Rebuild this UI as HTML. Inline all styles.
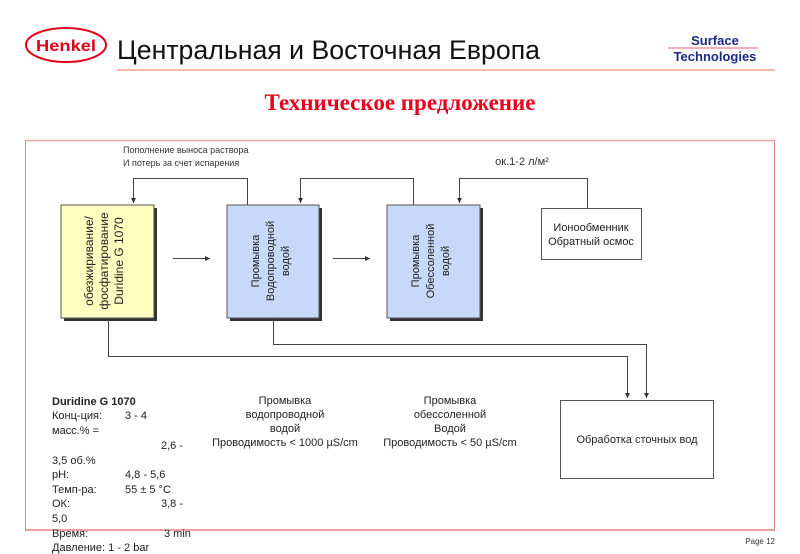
<!DOCTYPE html>
<html><head><meta charset="utf-8"><style>
body{margin:0;width:800px;height:554px;overflow:hidden;background:#fff;position:relative;font-family:"Liberation Sans",sans-serif}
.a{position:absolute}
</style></head><body>
<svg class="a" style="left:0;top:0" width="800" height="554" font-family="Liberation Sans, sans-serif">
<defs><marker id="ar" markerWidth="6" markerHeight="6" refX="5" refY="3" orient="auto"><path d="M0,0.5 L5,3 L0,5.5z" fill="#333"/></marker></defs>
<ellipse cx="66" cy="45" rx="40" ry="17" fill="#fff" stroke="#e2001a" stroke-width="2"/>
<text x="36" y="51" font-size="16" font-weight="bold" fill="#e2001a" textLength="60" lengthAdjust="spacingAndGlyphs">Henkel</text>
<text x="117" y="59" font-size="27" fill="#111" textLength="423" lengthAdjust="spacingAndGlyphs">Центральная и Восточная Европа</text>
<line x1="117" y1="70" x2="775" y2="70" stroke="#f0a090" stroke-width="1.5"/>
<text x="715" y="45" font-size="13" font-weight="bold" fill="#1a2a80" text-anchor="middle">Surface</text>
<line x1="668" y1="48" x2="758" y2="48" stroke="#e06080" stroke-width="1"/>
<text x="715" y="61" font-size="13" font-weight="bold" fill="#1a2a80" text-anchor="middle">Technologies</text>
<text x="400" y="110" font-size="23" font-weight="bold" fill="#e8001c" text-anchor="middle" font-family="Liberation Serif, serif">Техническое предложение</text>
<rect x="25.5" y="140.5" width="749" height="389.5" fill="none" stroke="#f08080" stroke-width="1"/>
<line x1="25" y1="140.5" x2="775" y2="140.5" stroke="#f0a0a0" stroke-width="1.5"/>
<line x1="25" y1="530" x2="775" y2="530" stroke="#e04040" stroke-width="1"/>
<rect x="64" y="208" width="93" height="113" fill="#333"/>
<rect x="61" y="205" width="93" height="113" fill="#ffffc0" stroke="#555"/>
<rect x="230" y="208" width="92" height="113" fill="#333"/>
<rect x="227" y="205" width="92" height="113" fill="#c8d8f8" stroke="#555"/>
<rect x="390" y="208" width="93" height="113" fill="#333"/>
<rect x="387" y="205" width="93" height="113" fill="#c8d8f8" stroke="#555"/>
<rect x="541.5" y="208.5" width="100" height="51" fill="#fff" stroke="#555"/>
<rect x="560.5" y="400.5" width="153" height="78" fill="#fff" stroke="#555"/>
<g font-size="12" fill="#222" text-anchor="middle">
<text transform="translate(107,261) rotate(-90)"><tspan x="0" y="-14">обезжиривание/</tspan><tspan x="0" y="1">фосфатирование</tspan><tspan x="0" y="16">Duridine G 1070</tspan></text>
<text transform="translate(273,261) rotate(-90)" font-size="11"><tspan x="0" y="-14">Промывка</tspan><tspan x="0" y="1">Водопроводной</tspan><tspan x="0" y="16">водой</tspan></text>
<text transform="translate(433,261) rotate(-90)" font-size="11"><tspan x="0" y="-14">Промывка</tspan><tspan x="0" y="1">Обессоленной</tspan><tspan x="0" y="16">водой</tspan></text>
<text x="591" y="231" font-size="11">Ионообменник</text>
<text x="591" y="245" font-size="11">Обратный осмос</text>
<text x="637" y="443" font-size="11">Обработка сточных вод</text>
</g>
<g stroke="#444" fill="none" stroke-width="1">
<path d="M247.5,205 V178.5 H133.5 V203" marker-end="url(#ar)"/>
<path d="M413.5,205 V178.5 H300.5 V203" marker-end="url(#ar)"/>
<path d="M587.5,208 V178.5 H459.5 V203" marker-end="url(#ar)"/>
<path d="M173,258.5 H210" marker-end="url(#ar)"/>
<path d="M333,258.5 H370" marker-end="url(#ar)"/>
<path d="M108.5,318 V356.5 H627.5 V398" marker-end="url(#ar)"/>
<path d="M273.5,318 V344.5 H646.5 V398" marker-end="url(#ar)"/>
</g>
<g font-size="9" fill="#333"><text x="123" y="153">Пополнение выноса раствора</text><text x="123" y="166">И потерь за счет испарения</text></g>
<text x="522" y="165" font-size="11" fill="#333" text-anchor="middle">ок.1-2 л/м²</text>
<g font-size="11" fill="#222">
<text x="52" y="405" font-weight="bold">Duridine G 1070</text>
<text x="52" y="419">Конц-ция:</text><text x="125" y="419">3 - 4</text>
<text x="52" y="434">масс.% =</text>
<text x="161" y="449">2,6 -</text>
<text x="52" y="464">3,5 об.%</text>
<text x="52" y="478">pH:</text><text x="125" y="478">4,8 - 5,6</text>
<text x="52" y="493">Темп-ра:</text><text x="125" y="493">55 ± 5 °C</text>
<text x="52" y="507">ОК:</text><text x="161" y="507">3,8 -</text>
<text x="52" y="522">5,0</text>
<text x="52" y="537">Время:</text><text x="164" y="537">3 min</text>
<text x="52" y="551">Давление: 1 - 2 bar</text>
</g>
<g font-size="11" fill="#222" text-anchor="middle">
<text x="285" y="404">Промывка</text><text x="285" y="418">водопроводной</text><text x="285" y="432">водой</text><text x="285" y="446">Проводимость &lt; 1000 µS/cm</text>
<text x="450" y="404">Промывка</text><text x="450" y="418">обессоленной</text><text x="450" y="432">Водой</text><text x="450" y="446">Проводимость &lt; 50 µS/cm</text>
</g>
<text x="775" y="544" font-size="8" fill="#333" text-anchor="end">Page 12</text>
</svg>
</body></html>
